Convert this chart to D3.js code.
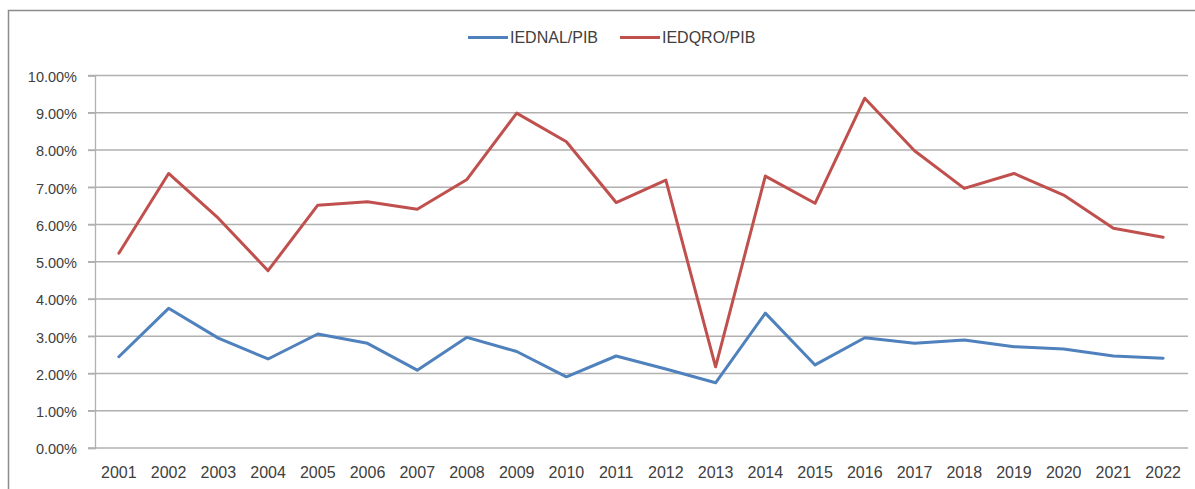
<!DOCTYPE html>
<html>
<head>
<meta charset="utf-8">
<script src="https://cdn.jsdelivr.net/npm/d3@7"></script>
<style>
  html, body { margin: 0; padding: 0; background: #fff; }
  svg { display: block; }
  text { font-family: "Liberation Sans", Arial, sans-serif; fill: #404040; }
</style>
</head>
<body>
<svg id="chart" width="1195" height="489"></svg>
<script>
// Years on the category axis
const years = ["2001","2002","2003","2004","2005","2006","2007","2008","2009","2010","2011",
               "2012","2013","2014","2015","2016","2017","2018","2019","2020","2021","2022"];

// Foreign direct investment as a share of GDP (fractions)
const iedNal = [0.0245,0.0375,0.0295,0.0239,0.0306,0.0281,0.0209,0.0297,0.0259,0.0191,0.0247,
                0.0212,0.0175,0.0362,0.0223,0.0296,0.0281,0.0290,0.0272,0.0266,0.0247,0.0241];
const iedQro = [0.0523,0.0737,0.0617,0.0476,0.0652,0.0661,0.0641,0.0721,0.0899,0.0822,0.0659,
                0.0719,0.0218,0.0730,0.0657,0.0939,0.0798,0.0697,0.0737,0.0679,0.0590,0.0566];

const seriesNames = ["IEDNAL/PIB", "IEDQRO/PIB"];
const seriesColors = ["#4F81BD", "#C0504D"];

// Value axis ticks
const yTicks = [0,0.01,0.02,0.03,0.04,0.05,0.06,0.07,0.08,0.09,0.10];

const svg = d3.select("#chart");

// Outer chart frame
svg.append("rect")
  .attr("x", 8.5).attr("y", 10.5)
  .attr("width", 1200).attr("height", 500)
  .attr("fill", "none").attr("stroke", "#8c8c8c").attr("stroke-width", 1.5);

const plot = { left: 94, right: 1188, top: 75.5, bottom: 448 };

const x = d3.scaleBand().domain(years).range([plot.left, plot.right]).padding(0);
const y = d3.scaleLinear().domain([0, 0.10]).range([plot.bottom, plot.top]);
const fmt = d3.format(".2%");

// Horizontal gridlines
svg.append("g")
  .selectAll("line")
  .data(yTicks)
  .join("line")
  .attr("x1", plot.left - 6).attr("x2", plot.right)
  .attr("y1", d => y(d)).attr("y2", d => y(d))
  .attr("stroke", "#b0b0b0").attr("stroke-width", 1.3);

// Y axis
const yAxis = svg.append("g")
  .attr("transform", `translate(${plot.left + 1},0)`)
  .call(d3.axisLeft(y).tickValues(yTicks).tickFormat(fmt).tickSize(7).tickPadding(11));
yAxis.select(".domain").attr("stroke", "#b0b0b0").attr("stroke-width", 1.3);
yAxis.selectAll(".tick line").attr("stroke", "#b0b0b0").attr("stroke-width", 1.3);
yAxis.selectAll(".tick text")
  .attr("font-family", "Liberation Sans, Arial, sans-serif")
  .attr("font-size", 14.5).attr("fill", "#404040").attr("dy", "0.4em");

// X axis labels
const xAxis = svg.append("g")
  .attr("transform", `translate(0,${plot.bottom})`)
  .call(d3.axisBottom(x).tickSize(0).tickPadding(19));
xAxis.select(".domain").remove();
xAxis.selectAll(".tick text")
  .attr("font-family", "Liberation Sans, Arial, sans-serif")
  .attr("font-size", 16).attr("fill", "#404040");

// Lines
const line = d3.line()
  .x((d, i) => x(years[i]) + x.bandwidth() / 2)
  .y(d => y(d));

[iedNal, iedQro].forEach((vals, k) => {
  svg.append("path")
    .datum(vals)
    .attr("d", line)
    .attr("fill", "none")
    .attr("stroke", seriesColors[k])
    .attr("stroke-width", 3)
    .attr("stroke-linejoin", "round")
    .attr("stroke-linecap", "round");
});

// Legend
const legendX = [468, 620];
const legend = svg.append("g");
seriesNames.forEach((name, k) => {
  legend.append("line")
    .attr("x1", legendX[k]).attr("x2", legendX[k] + 40)
    .attr("y1", 37.5).attr("y2", 37.5)
    .attr("stroke", seriesColors[k]).attr("stroke-width", 3);
  legend.append("text")
    .attr("x", legendX[k] + 42).attr("y", 43)
    .attr("font-size", 16)
    .text(name);
});
</script>
</body>
</html>
